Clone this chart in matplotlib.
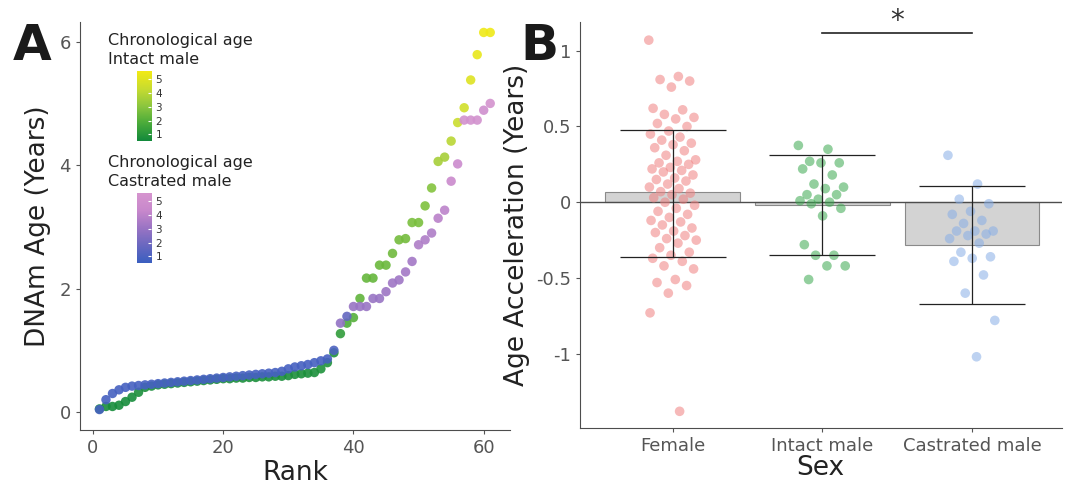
import numpy as np
import matplotlib
matplotlib.use("Agg")
import matplotlib.pyplot as plt
from matplotlib.colors import LinearSegmentedColormap, Normalize

# ---------------- data ----------------
intact_dnam = [0.05,0.09,0.09,0.11,0.17,0.24,0.32,0.40,0.42,0.44,0.45,0.46,0.47,0.48,0.49,0.50,0.51,0.52,0.53,0.54,
               0.54,0.55,0.55,0.56,0.56,0.57,0.57,0.58,0.58,0.59,0.61,0.62,0.63,0.64,0.70,0.80,0.96,1.27,1.44,1.53,
               1.84,2.17,2.17,2.38,2.38,2.57,2.79,2.81,3.07,3.07,3.34,3.63,4.06,4.13,4.39,4.69,4.93,5.38,5.79,6.15,6.15]
intact_age = [0.6,0.6,0.6,0.6,0.6,0.6,0.7,0.7,0.7,0.7,0.7,0.7,0.7,0.7,0.7,0.7,0.7,0.7,0.7,0.7,
              0.7,0.7,0.7,0.7,0.7,0.7,0.7,0.7,0.7,0.7,0.7,0.7,0.7,0.7,0.8,0.8,0.8,1.2,1.8,2.0,
              2.2,2.3,2.3,2.4,2.4,2.5,2.6,2.6,2.7,2.7,2.8,2.9,3.6,3.6,4.0,4.4,4.6,5.0,5.3,5.5,5.5]
castr_dnam = [0.04,0.20,0.30,0.36,0.40,0.42,0.43,0.44,0.45,0.46,0.47,0.48,0.49,0.50,0.51,0.52,0.53,0.54,0.55,0.56,
              0.57,0.58,0.59,0.60,0.61,0.62,0.63,0.64,0.66,0.70,0.73,0.75,0.77,0.80,0.83,0.86,1.00,1.44,1.55,1.71,
              1.71,1.71,1.84,1.84,1.95,2.09,2.14,2.27,2.44,2.71,2.79,2.90,3.14,3.27,3.74,4.02,4.73,4.73,4.73,4.89,5.00]
castr_age = [0.8,0.8,0.8,0.8,0.8,0.8,0.8,0.8,0.8,0.8,0.8,0.8,0.8,0.8,0.8,0.8,0.8,0.8,0.8,0.8,
             0.8,0.8,0.8,0.8,0.8,0.8,0.8,0.8,0.8,0.8,0.8,0.8,0.8,0.8,0.8,0.8,1.0,2.8,1.6,3.0,
             3.0,3.0,3.0,3.0,3.1,3.2,3.2,3.3,3.3,3.6,3.6,3.6,3.9,4.0,4.5,4.6,5.2,5.2,5.2,5.0,5.3]

groups = ["Female", "Intact male", "Castrated male"]
group_means = [0.07, -0.02, -0.28]
group_hi = [0.48, 0.31, 0.11]
group_lo = [-0.36, -0.35, -0.67]
female_vals = [1.07,0.83,0.81,0.80,0.76,0.62,0.61,0.58,0.56,0.55,0.52,0.50,0.47,0.45,0.43,0.41,0.39,0.38,0.36,0.34,
               0.31,0.28,0.27,0.26,0.25,0.23,0.22,0.21,0.20,0.18,0.16,0.15,0.14,0.12,0.10,0.09,0.07,0.06,0.05,0.03,
               0.02,0.00,-0.02,-0.04,-0.06,-0.08,-0.10,-0.12,-0.13,-0.15,-0.17,-0.19,-0.20,-0.22,-0.24,-0.25,-0.27,
               -0.30,-0.33,-0.35,-0.37,-0.39,-0.42,-0.44,-0.51,-0.53,-0.55,-0.60,-0.73,-1.38]
intact_vals = [0.375,0.35,0.27,0.26,0.26,0.22,0.18,0.12,0.10,0.09,0.05,0.05,0.02,0.01,0.0,-0.01,-0.04,-0.09,
               -0.28,-0.35,-0.35,-0.42,-0.42,-0.51]
castr_vals = [0.31,0.12,0.02,-0.01,-0.06,-0.08,-0.12,-0.14,-0.19,-0.19,-0.19,-0.21,-0.22,-0.24,-0.27,-0.33,
              -0.36,-0.37,-0.39,-0.48,-0.60,-0.78,-1.02]

# ---------------- figure ----------------
fig = plt.figure(figsize=(10.8, 4.88), dpi=100)
grey = "#4d4d4d"
tickc = "#555555"

cm_int = LinearSegmentedColormap.from_list("int", ["#138a3c", "#4aab3a", "#8cc63f", "#c8dc30", "#f2ea15"])
cm_cas = LinearSegmentedColormap.from_list("cas", ["#3b5fc0", "#6a68c0", "#9a74c4", "#c888cc", "#d695cf"])
norm = Normalize(0.5, 5.6)

axA = fig.add_axes([0.074, 0.119, 0.398, 0.836])
ranks = np.arange(1, len(intact_dnam) + 1)
axA.scatter(ranks, intact_dnam, c=intact_age, cmap=cm_int, norm=norm, s=46, alpha=0.9, edgecolors="none", zorder=3)
ranks2 = np.arange(1, len(castr_dnam) + 1)
axA.scatter(ranks2, castr_dnam, c=castr_age, cmap=cm_cas, norm=norm, s=46, alpha=0.9, edgecolors="none", zorder=3)
axA.set_xlim(-2, 64)
axA.set_ylim(-0.29, 6.32)
axA.set_xticks([0, 20, 40, 60])
axA.set_yticks([0, 2, 4, 6])
axA.set_xlabel("Rank", fontsize=19, color="#222222", labelpad=2)
axA.set_ylabel("DNAm Age (Years)", fontsize=19, color="#222222", labelpad=6)

def style(ax):
    for s in ("top", "right"):
        ax.spines[s].set_visible(False)
    for s in ("left", "bottom"):
        ax.spines[s].set_color(grey)
    ax.tick_params(colors=tickc, labelsize=13, length=3)
style(axA)

# legends (colorbars)
fig.text(0.100, 0.918, "Chronological age", fontsize=11.5, color="#222222", va="center")
fig.text(0.100, 0.878, "Intact male", fontsize=11.5, color="#222222", va="center")
fig.text(0.100, 0.668, "Chronological age", fontsize=11.5, color="#222222", va="center")
fig.text(0.100, 0.628, "Castrated male", fontsize=11.5, color="#222222", va="center")
grad = np.linspace(0.5, 5.6, 100).reshape(-1, 1)
for cm, bot in ((cm_int, 0.711), (cm_cas, 0.461)):
    cax = fig.add_axes([0.127, bot, 0.013, 0.143])
    cax.imshow(grad, aspect="auto", cmap=cm, norm=norm, origin="lower", extent=[0, 1, 0.5, 5.6])
    cax.set_xticks([])
    cax.yaxis.tick_right()
    cax.set_yticks([1, 2, 3, 4, 5])
    cax.tick_params(axis="y", length=2, colors="white", labelcolor="#333333", labelsize=7.5, pad=3, direction="in")
    for s in cax.spines.values():
        s.set_visible(False)

fig.text(0.012, 0.905, "A", fontsize=36, fontweight="bold", color="#1a1a1a", va="center")
fig.text(0.482, 0.905, "B", fontsize=36, fontweight="bold", color="#1a1a1a", va="center")

# ---------------- panel B ----------------
axB = fig.add_axes([0.537, 0.123, 0.446, 0.832])
xpos = np.arange(len(groups))
axB.bar(xpos, group_means, width=0.9, color="#d3d3d3", edgecolor="#8a8a8a", linewidth=0.8, zorder=1)
axB.axhline(0, color=grey, lw=1, zorder=2)
pt_colors = ["#f08080", "#3aa84f", "#88aee6"]
for i, vals in enumerate([female_vals, intact_vals, castr_vals]):
    n = len(vals)
    jit = ((np.arange(n) * 0.618034) % 1.0 - 0.5) * 0.32
    axB.scatter(i + jit, vals, s=48, color=pt_colors[i], alpha=0.55, edgecolors="none", zorder=3)
    axB.errorbar(i, group_means[i], yerr=[[group_means[i] - group_lo[i]], [group_hi[i] - group_means[i]]],
                 fmt="none", ecolor="#222222", elinewidth=0.9, capsize=38, capthick=0.9, zorder=4)
axB.plot([1, 2], [1.12, 1.12], color="#222222", lw=1.2)
axB.text(1.5, 1.105, "*", fontsize=20, ha="center", va="bottom", color="#333333")
axB.set_xlim(-0.62, 2.6)
axB.set_ylim(-1.49, 1.19)
axB.set_xticks(xpos)
axB.set_xticklabels(groups)
axB.set_yticks([-1, -0.5, 0, 0.5, 1])
axB.set_yticklabels(["-1", "-0.5", "0", "0.5", "1"])
axB.set_xlabel("Sex", fontsize=19, color="#222222", labelpad=0)
axB.set_ylabel("Age Acceleration (Years)", fontsize=19, color="#222222", labelpad=4)
style(axB)

fig.savefig("out.png", dpi=100)
